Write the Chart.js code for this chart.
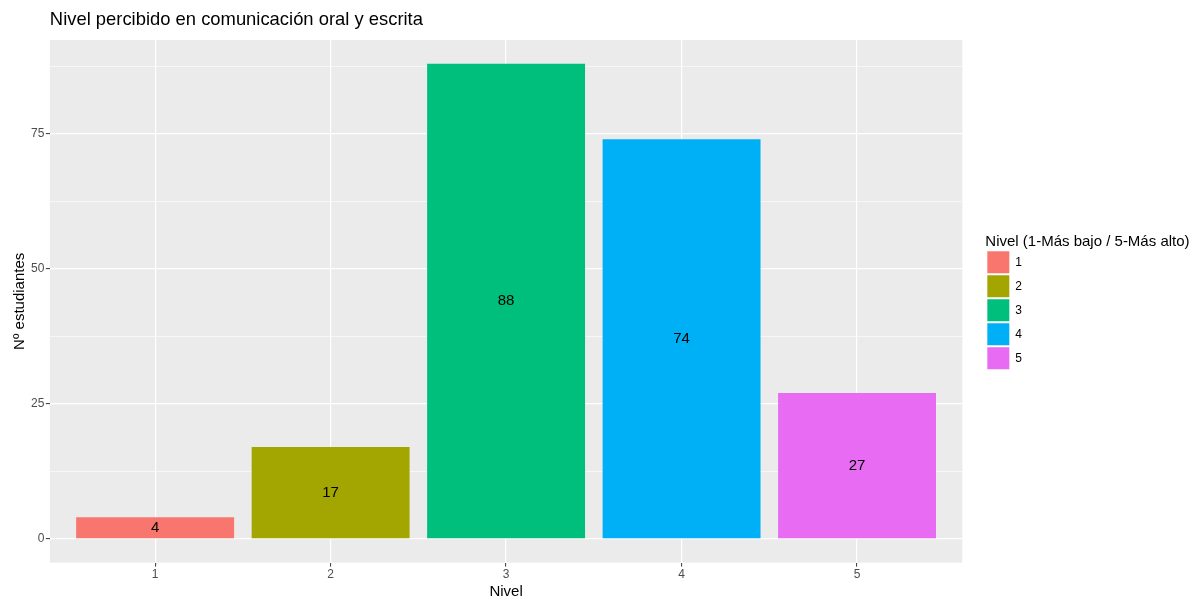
<!DOCTYPE html>
<html>
<head>
<meta charset="utf-8">
<script src="https://cdn.jsdelivr.net/npm/chart.js"></script>
<style>
  body { margin: 0; background: #fff; }
</style>
</head>
<body>
<canvas id="myChart" width="1201" height="601"></canvas>
<script>
  // data
  const niveles = [1, 2, 3, 4, 5];
  const estudiantes = [4, 17, 88, 74, 27];
  const colores = ['#F8766D', '#A3A500', '#00BF7D', '#00B0F6', '#E76BF3'];
  const yTicks = [0, 12.5, 25, 37.5, 50, 62.5, 75, 87.5];

  Chart.defaults.font.family = "'Liberation Sans', Arial, sans-serif";

  const isMajor = v => v % 25 === 0;

  // grey panel behind the grid
  const panelBg = {
    id: 'panelBg',
    beforeDraw(chart) {
      const a = chart.chartArea, ctx = chart.ctx;
      ctx.save();
      ctx.fillStyle = '#EBEBEB';
      ctx.fillRect(a.left, a.top, a.right - a.left, a.bottom - a.top);
      ctx.restore();
    }
  };

  // legend box is only as wide as the keys, widen it so the title is not clipped
  const wideLegend = {
    id: 'wideLegend',
    afterLayout(chart) {
      const lg = chart.legend;
      lg.right = chart.width;
      lg.width = lg.right - lg.left;
    }
  };

  // value written in the middle of each bar
  const barLabels = {
    id: 'barLabels',
    afterDatasetsDraw(chart) {
      const ctx = chart.ctx;
      ctx.save();
      ctx.font = "15px 'Liberation Sans', Arial, sans-serif";
      ctx.fillStyle = '#000';
      ctx.textAlign = 'center';
      ctx.textBaseline = 'middle';
      chart.data.datasets.forEach((ds, i) => {
        chart.getDatasetMeta(i).data.forEach((bar, j) => {
          ctx.fillText(ds.data[j].y, bar.x, (bar.y + bar.base) / 2);
        });
      });
      ctx.restore();
    }
  };

  const datasets = niveles.map((n, i) => ({
    label: String(n),
    data: [{ x: n, y: estudiantes[i] }],
    backgroundColor: colores[i],
    borderWidth: 0,
    barPercentage: 0.9,
    categoryPercentage: 1.0,
    grouped: false
  }));

  new Chart(document.getElementById('myChart'), {
    type: 'bar',
    data: { datasets: datasets },
    options: {
      responsive: false,
      animation: false,
      layout: { padding: { left: 5, right: 169, top: 0, bottom: 0 } },
      plugins: {
        title: {
          display: true,
          text: 'Nivel percibido en comunicación oral y escrita',
          align: 'start',
          fullSize: false,
          color: '#000',
          font: { size: 18.4, weight: 'normal' },
          padding: { top: 8.5, bottom: 9.4 }
        },
        legend: {
          position: 'right',
          align: 'center',
          title: {
            display: true,
            text: 'Nivel (1-Más bajo / 5-Más alto)',
            position: 'start',
            color: '#000',
            font: { size: 15 },
            padding: { top: 4.5, bottom: -3 }
          },
          labels: {
            boxWidth: 22,
            boxHeight: 22,
            padding: 2,
            color: '#000',
            font: { size: 12 }
          }
        },
        tooltip: { enabled: false }
      },
      scales: {
        x: {
          type: 'linear',
          min: 0.4,
          max: 5.6,
          offset: false,
          afterBuildTicks: s => { s.ticks = niveles.map(v => ({ value: v })); },
          ticks: {
            callback: v => String(v),
            color: '#4D4D4D',
            font: { size: 12 },
            padding: 1,
            autoSkip: false,
            maxRotation: 0
          },
          grid: {
            offset: false,
            color: '#FFFFFF',
            lineWidth: 1.2,
            tickLength: 4,
            tickColor: '#333333',
            tickWidth: 1
          },
          border: { display: false },
          title: {
            display: true,
            text: 'Nivel',
            color: '#000',
            font: { size: 15 },
            padding: { top: 0, bottom: 0 }
          }
        },
        y: {
          min: -4.4,
          max: 92.4,
          afterBuildTicks: s => { s.ticks = yTicks.map(v => ({ value: v })); },
          ticks: {
            callback: v => isMajor(v) ? String(v) : '',
            color: '#4D4D4D',
            font: { size: 12 },
            padding: 1.5
          },
          grid: {
            color: '#FFFFFF',
            lineWidth: c => (c.tick && isMajor(c.tick.value)) ? 1.2 : 0.6,
            tickLength: 4,
            tickColor: c => (c.tick && isMajor(c.tick.value)) ? '#333333' : 'rgba(0,0,0,0)',
            tickWidth: 1
          },
          border: { display: false },
          title: {
            display: true,
            text: 'Nº estudiantes',
            color: '#000',
            font: { size: 15 },
            padding: { top: 6, bottom: 0.5 }
          }
        },
        // empty axis: keeps the gap between the panel and the legend
        gap: {
          axis: 'y',
          position: 'right',
          display: true,
          grid: { display: false, drawTicks: false },
          ticks: { display: false },
          border: { display: false },
          afterFit: s => { s.width = 23; }
        }
      }
    },
    plugins: [panelBg, barLabels, wideLegend]
  });
</script>
</body>
</html>
